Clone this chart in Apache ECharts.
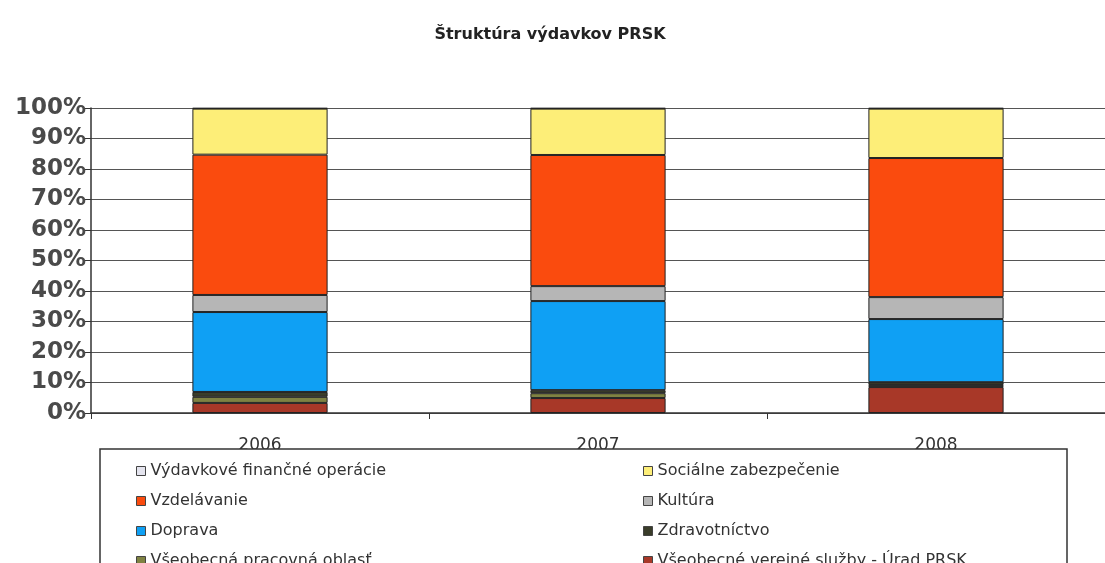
<!DOCTYPE html>
<html>
<head>
<meta charset="utf-8">
<script src="https://cdn.jsdelivr.net/npm/echarts@6/dist/echarts.min.js"></script>
<style>html,body{margin:0;padding:0;background:#fff;}#c{width:1105px;height:563px;}</style>
</head>
<body>
<div id="c"></div>
<script>
const categories = ['2006', '2007', '2008'];
const yTicks = [0, 10, 20, 30, 40, 50, 60, 70, 80, 90, 100];
// stacked from bottom to top (percent of total)
const vseobecneVerejneSluzby = [3.3, 4.9, 8.5];
const vseobecnaPracovnaOblast = [2.0, 1.6, 0.7];
const zdravotnictvo = [1.6, 1.0, 0.9];
const doprava = [26.2, 29.2, 20.7];
const kultura = [5.6, 4.9, 7.2];
const vzdelavanie = [46.0, 43.0, 45.6];
const socialneZabezpecenie = [15.1, 15.2, 16.2];
const vydavkoveFinancneOperacie = [0.2, 0.2, 0.2];

const seriesDefs = [
  ['Všeobecné verejné služby - Úrad PRSK', vseobecneVerejneSluzby, '#a83828'],
  ['Všeobecná pracovná oblasť', vseobecnaPracovnaOblast, '#7f8242'],
  ['Zdravotníctvo', zdravotnictvo, '#3a3d2a'],
  ['Doprava', doprava, '#0fa0f4'],
  ['Kultúra', kultura, '#b6b6b6'],
  ['Vzdelávanie', vzdelavanie, '#fa4b0e'],
  ['Sociálne zabezpečenie', socialneZabezpecenie, '#fdee78'],
  ['Výdavkové finančné operácie', vydavkoveFinancneOperacie, '#e4e4ee']
];

const chart = echarts.init(document.getElementById('c'));
const legendText = { fontFamily: 'DejaVu Sans', fontSize: 16, color: '#333', lineHeight: 20 };
chart.setOption({
  animation: false,
  backgroundColor: '#fff',
  title: {
    text: 'Štruktúra výdavkov PRSK',
    left: 545, top: 22, textAlign: 'center',
    textStyle: { fontFamily: 'DejaVu Sans', fontWeight: 'bold', fontSize: 16, color: '#222' }
  },
  grid: { left: 91, right: -12, top: 108, bottom: 150, containLabel: false },
  xAxis: {
    type: 'category', data: categories,
    axisLine: { lineStyle: { color: '#333', width: 1.5 } },
    axisTick: { show: true, length: 6, lineStyle: { color: '#333' } },
    axisLabel: { fontFamily: 'DejaVu Sans', fontSize: 17, color: '#333', margin: 24 }
  },
  yAxis: {
    type: 'value', min: 0, max: 100, interval: 10,
    axisLine: { show: true, lineStyle: { color: '#333', width: 1.5 } },
    axisTick: { show: true, length: 6, lineStyle: { color: '#333' } },
    axisLabel: {
      fontFamily: 'DejaVu Sans', fontWeight: 'bold', fontSize: 23, color: '#4a4a4a', margin: 5,
      formatter: v => (yTicks.indexOf(v) >= 0 ? v + '%' : '')
    },
    splitLine: { show: true, lineStyle: { color: '#555', width: 1 } }
  },
  legend: [
    {
      data: ['Výdavkové finančné operácie', 'Vzdelávanie', 'Doprava', 'Všeobecná pracovná oblasť'],
      orient: 'vertical', left: 131, top: 456, height: 160, itemGap: 10, itemWidth: 9, itemHeight: 9,
      icon: 'rect', textStyle: legendText, z: 6, itemStyle: { borderColor: '#444', borderWidth: 1 }
    },
    {
      data: ['Sociálne zabezpečenie', 'Kultúra', 'Zdravotníctvo', 'Všeobecné verejné služby - Úrad PRSK'],
      orient: 'vertical', left: 638, top: 456, height: 160, itemGap: 10, itemWidth: 9, itemHeight: 9,
      icon: 'rect', textStyle: legendText, z: 6, itemStyle: { borderColor: '#444', borderWidth: 1 }
    }
  ],
  graphic: [
    {
      type: 'rect', z: 3,
      shape: { x: 100, y: 449, width: 967, height: 140 },
      style: { fill: '#fff', stroke: '#333', lineWidth: 1.5 }
    }
  ],
  series: seriesDefs.map(([name, data, color]) => ({
    name, type: 'bar', stack: 'total', data, barWidth: '40%',
    itemStyle: { color, borderColor: '#222', borderWidth: 1 }
  }))
});
</script>
</body>
</html>
